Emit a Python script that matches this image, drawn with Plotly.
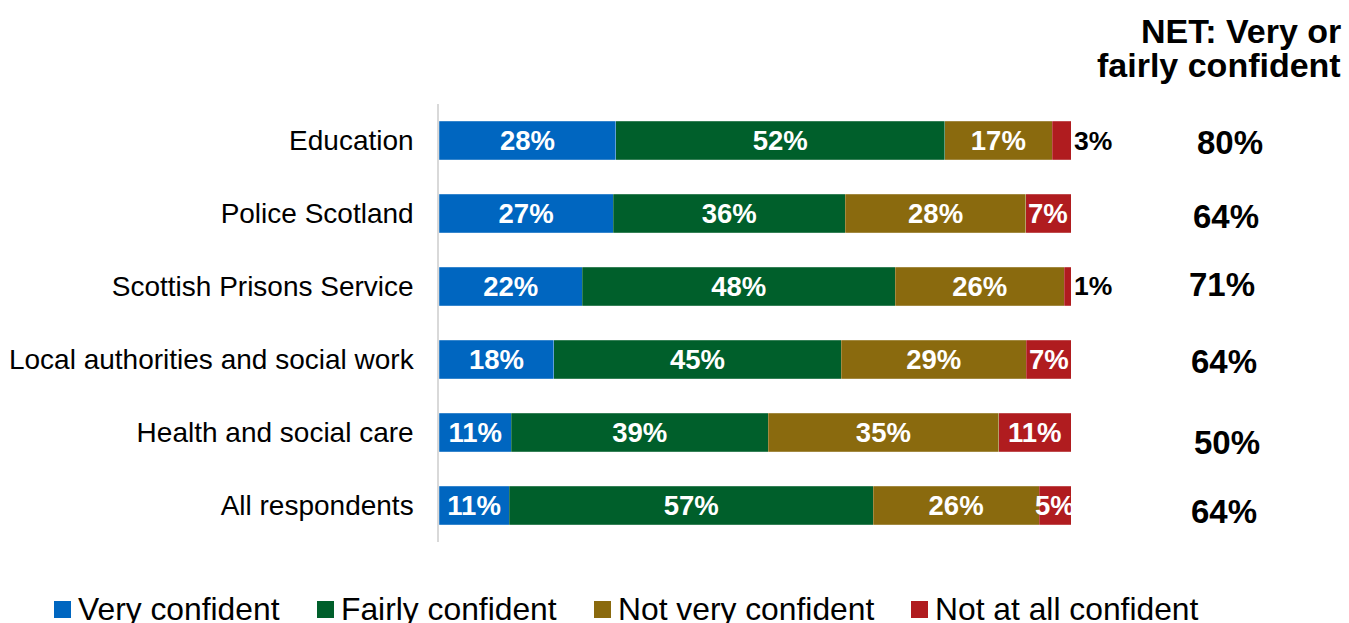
import plotly.graph_objects as go

# Confidence in each service (percent of respondents)
categories = [
    "Education",
    "Police Scotland",
    "Scottish Prisons Service",
    "Local authorities and social work",
    "Health and social care",
    "All respondents",
]
very_confident = [28, 27, 22, 18, 11, 11]
fairly_confident = [52, 36, 48, 45, 39, 57]
not_very_confident = [17, 28, 26, 29, 35, 26]
not_at_all_confident = [3, 7, 1, 7, 11, 5]
net_confident = [80, 64, 71, 64, 50, 64]

series_names = ["Very confident", "Fairly confident", "Not very confident", "Not at all confident"]
series_values = [very_confident, fairly_confident, not_very_confident, not_at_all_confident]
series_colors = ["#0066C0", "#005F2B", "#8A6A0E", "#B01C1F"]

FONT = "Liberation Sans, Arial, sans-serif"
LABEL_SIZE = 27.5
W, H = 1349, 623
L, R, T, B = 439, 278, 104, 81
PW = W - L - R
PH = H - T - B


def px_x(px):
    return (px - L) / PW


def px_y(py):
    return (H - B - py) / PH


# Slivers too thin for an inside label get theirs just past the bar end
SMALL = 3

fig = go.Figure()
for name, vals, color in zip(series_names, series_values, series_colors):
    is_last = name == series_names[-1]
    if is_last:
        text = [f"{v}%" if v <= SMALL else "" for v in vals]
        positions = "outside"
    else:
        text = [f"{v}%" for v in vals]
        positions = "inside"
    fig.add_trace(go.Bar(
        name=name,
        y=categories,
        x=vals,
        orientation="h",
        marker=dict(color=color, line=dict(color="rgba(255,255,255,0.35)", width=0.6)),
        text=text,
        texttemplate="%{text}",
        textposition=positions,
        insidetextanchor="middle",
        insidetextfont=dict(family=FONT, size=LABEL_SIZE, color="white", weight="bold"),
        outsidetextfont=dict(family=FONT, size=26.5, color="black", weight="bold"),
        constraintext="none",
        cliponaxis=False,
        hoverinfo="skip",
        showlegend=False,
    ))

annotations = []

# Labels inside the narrow end segments, centred on each segment
for i, cat in enumerate(categories):
    total = sum(s[i] for s in series_values)
    start = sum(s[i] for s in series_values[:-1])
    v = not_at_all_confident[i]
    if v <= SMALL:
        continue
    annotations.append(dict(
        text=f"<b>{v}%</b>", xref="x", yref="y",
        x=(start + v / 2) / total * 100, y=cat,
        xanchor="center", yanchor="middle", showarrow=False,
        font=dict(family=FONT, size=LABEL_SIZE, color="white"),
    ))

# Net column heading
for line, cy in (("NET: Very or", 31), ("fairly confident", 65)):
    annotations.append(dict(
        text=f"<b>{line}</b>", xref="paper", yref="paper",
        x=px_x(1343), y=px_y(cy), xanchor="right", yanchor="middle",
        showarrow=False, font=dict(family=FONT, size=34, color="black"),
    ))

# Net values, one per row
net_x = [1230, 1226, 1222, 1224, 1227, 1224]
net_shift = [-2, -3, 2, -2, -10, -6]
for cat, val, nx, sh in zip(categories, net_confident, net_x, net_shift):
    annotations.append(dict(
        text=f"<b>{val}%</b>", xref="paper", yref="y",
        x=px_x(nx), y=cat, yshift=sh, xanchor="center", yanchor="middle",
        showarrow=False, font=dict(family=FONT, size=33, color="black"),
    ))

# Legend row along the bottom edge
shapes = []
legend_square_x = [54, 317, 594, 911]
for name, color, sx in zip(series_names, series_colors, legend_square_x):
    shapes.append(dict(
        type="rect", xref="paper", yref="paper",
        x0=px_x(sx), x1=px_x(sx + 17), y0=px_y(618), y1=px_y(601),
        fillcolor=color, line=dict(width=0),
    ))
    annotations.append(dict(
        text=name, xref="paper", yref="paper",
        x=px_x(sx + 22), y=px_y(609), xanchor="left", yanchor="middle",
        showarrow=False, font=dict(family=FONT, size=31.8, color="black"),
    ))

fig.update_layout(
    width=W, height=H,
    margin=dict(l=L, r=R, t=T, b=B, pad=0, autoexpand=False),
    barmode="stack",
    barnorm="percent",
    bargap=0.47,
    plot_bgcolor="white",
    paper_bgcolor="white",
    font=dict(family=FONT, color="black"),
    annotations=annotations,
    shapes=shapes,
    showlegend=False,
    xaxis=dict(range=[0, 100], visible=False, fixedrange=True, automargin=False),
    yaxis=dict(
        autorange="reversed", showline=True, linecolor="#D9D9D9", linewidth=1.5,
        showgrid=False, zeroline=False, ticks="", ticklabelstandoff=18,
        tickfont=dict(family=FONT, size=28, color="black"), fixedrange=True,
        automargin=False,
    ),
)

fig.write_html("out.html")
